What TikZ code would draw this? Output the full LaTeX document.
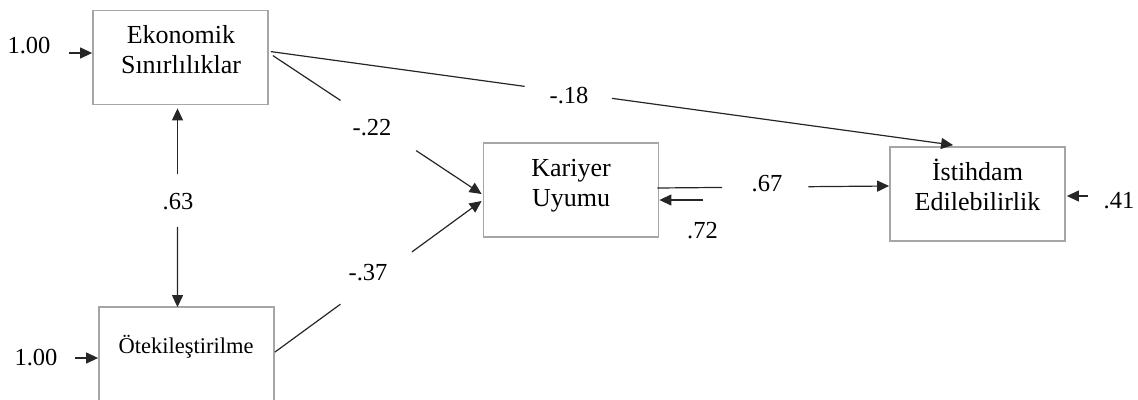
\documentclass[tikz,border=0pt]{standalone}
\usepackage{fontspec}
\setmainfont{Liberation Serif}
\usetikzlibrary{arrows.meta,calc}
\definecolor{boxgray}{HTML}{A6A6A6}
\definecolor{linegray}{HTML}{262626}
\begin{document}
\begin{tikzpicture}[x=1pt,y=-1pt,
  varbox/.style={draw=boxgray, line width=1.8pt, minimum width=175pt,
    minimum height=94pt, inner sep=0pt},
  boxtext/.style={font=\fontsize{26}{29.5}\selectfont, align=center,
    inner sep=0pt, anchor=base},
  coef/.style={font=\fontsize{24.5}{27}\selectfont, inner sep=0pt, anchor=base},
  conn/.style={draw=linegray, line width=1.2pt},
  tip/.style={-{Triangle[length=12pt,width=11pt]}},
]
\useasboundingbox (0,0) rectangle (1138,399);

% latent variable boxes
\node[varbox] (eko) at (180.5,57.5) {};
\node[varbox] (kar) at (571,190) {};
\node[varbox] (ist) at (977.5,194) {};
\node[varbox] (ote) at (186.5,354) {};

% box labels, placed by the baseline of their last line
\node[boxtext] (ekot) at (181,73) {Ekonomik\\Sınırlılıklar};
\node[boxtext] (kart) at (571,206) {Kariyer\\Uyumu};
\node[boxtext] (istt) at (977.5,210) {İstihdam\\Edilebilirlik};
\node[boxtext, font=\fontsize{22.5}{26}\selectfont] (otet) at (186,353) {Ötekileştirilme};

% end points of the paths
\coordinate (s18) at ($(eko.north east)+(2,42)$);
\coordinate (e18) at ($(ist.north west)+(64,-1)$);
\coordinate (s22) at ($(eko.north east)+(4,46)$);
\coordinate (e22) at ($(kar.west)+(-1,4)$);
\coordinate (s37) at ($(ote.north east)+(0,46)$);
\coordinate (e37) at ($(kar.west)+(-1,11)$);
\coordinate (s63) at ($(eko.south)+(-3,3)$);
\coordinate (e63) at ($(ote.north)+(-9,1)$);
\coordinate (s67) at ($(kar.east)+(-2,-2)$);
\coordinate (e67) at ($(ist.west)+(0,-8)$);
\coordinate (s72) at ($(kar.east)+(44,10)$);
\coordinate (s41) at ($(ist.east)+(22,2)$);
\coordinate (s1a) at ($(eko.west)+(-23,-4.5)$);
\coordinate (s1b) at ($(ote.west)+(-23,4)$);

% paths, broken where the coefficient sits
\draw[conn] (s18) -- ($(s18)!0.372!(e18)$);
\draw[conn,tip] ($(s18)!0.50!(e18)$) -- (e18);
\draw[conn] (s22) -- ($(s22)!0.324!(e22)$);
\draw[conn,tip] ($(s22)!0.686!(e22)$) -- (e22);
\draw[conn] (s37) -- ($(s37)!0.317!(e37)$);
\draw[conn,tip] ($(s37)!0.663!(e37)$) -- (e37);
\draw[conn,tip] ($(s63)!0.332!(e63)$) -- (s63);
\draw[conn,tip] ($(s63)!0.596!(e63)$) -- (e63);
\draw[conn] (s67) -- ($(s67)!0.279!(e67)$);
\draw[conn,tip] ($(s67)!0.652!(e67)$) -- (e67);
\draw[conn,tip] (s72) -- ($(kar.east)+(0,10)$);
\draw[conn,tip] (s41) -- ($(ist.east)+(1,2)$);
\draw[conn,tip] (s1a) -- ($(eko.west)+(0,-4.5)$);
\draw[conn,tip] (s1b) -- ($(ote.west)+(0,4)$);

% coefficients
\node[coef] (l18) at (569,103) {-.18};
\node[coef] (l22) at (372,135) {-.22};
\node[coef] (l37) at (368,280) {-.37};
\node[coef] (l63) at (178,209) {.63};
\node[coef] (l67) at (767,191) {.67};
\node[coef] (l72) at (702.5,238) {.72};
\node[coef] (l41) at (1119,208) {.41};
\node[coef] (l1a) at (29,53) {1.00};
\node[coef] (l1b) at (36,365) {1.00};
\end{tikzpicture}
\end{document}
